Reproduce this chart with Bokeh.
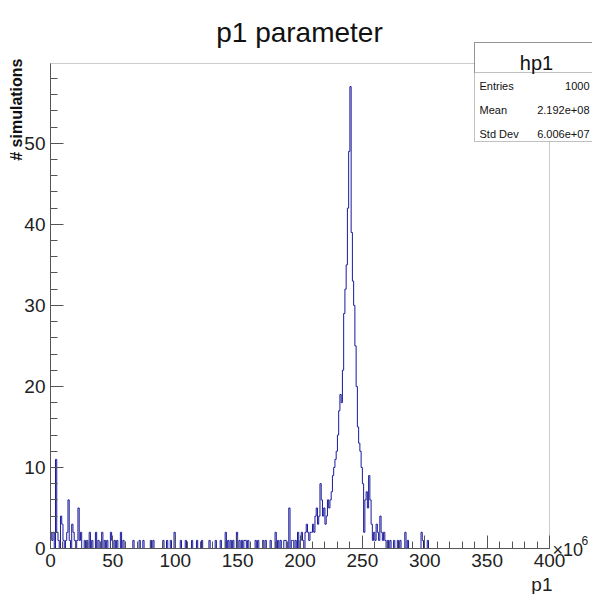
import numpy as np
from bokeh.plotting import figure
from bokeh.models import Label, BoxAnnotation, FixedTicker, Range1d, LinearAxis
from bokeh.embed import file_html
from bokeh.resources import INLINE

# ---------------- data (p1 in units of 1e6) ----------------
x_lo, x_hi = 0, 400
y_hi = 59.85
bin_width = 1

low_x = [0, 1, 2, 4, 5, 6, 8, 9, 10, 12, 13, 14, 15, 17, 18, 19, 21, 22, 23, 24,
         27, 29, 31, 33, 36, 38, 41, 43, 45, 48, 49, 51, 53, 56, 58, 66, 71, 74, 80, 82,
         90, 93, 96, 99, 104, 108, 113, 117, 121, 127, 132, 136, 140, 142, 144, 146, 149, 151, 153, 155,
         156, 158, 164, 166, 170, 172, 176, 180, 182, 184, 187, 188, 191, 193, 194, 196, 198]
low_n = [2, 1, 2, 11, 2, 1, 4, 3, 1, 1, 2, 6, 1, 3, 2, 1, 1, 5, 1, 2,
         1, 1, 2, 1, 2, 1, 2, 1, 1, 2, 1, 1, 1, 2, 1, 1, 1, 1, 1, 1,
         1, 1, 1, 2, 1, 1, 1, 1, 1, 1, 1, 1, 2, 1, 1, 1, 2, 1, 1, 1,
         1, 1, 1, 1, 1, 1, 1, 2, 1, 1, 1, 1, 5, 1, 1, 1, 2]

peak_start = 200
peak_n = [1, 2, 1, 0, 2, 3, 2, 1, 2, 2,
          3, 2, 4, 5, 3, 4, 8, 6, 4, 5,
          3, 4, 6, 5, 6, 7, 9, 10, 11, 12,
          14, 17, 19, 18, 22, 29, 32, 35, 42, 49,
          57, 39, 33, 30, 25, 20, 15, 13, 12, 10,
          8, 2, 6, 7, 5, 9, 6, 3, 1, 2,
          1, 3, 2, 1, 4, 2, 1, 2, 1]

tail_x = [270, 272, 275, 278, 280, 284, 286, 297, 298, 302]
tail_n = [1, 1, 1, 1, 1, 2, 1, 2, 1, 1]

x_major = [0, 50, 100, 150, 200, 250, 300, 350, 400]
y_major = [0, 10, 20, 30, 40, 50]

stats_name = "hp1"
stats_labels = ["Entries", "Mean", "Std Dev"]
stats_values = ["1000", "2.192e+08", "6.006e+07"]

# ---------------- build histogram ----------------
nbins = int((x_hi - x_lo) / bin_width)
counts = np.zeros(nbins)
for x, n in zip(low_x, low_n):
    counts[int((x - x_lo) / bin_width)] = n
for i, n in enumerate(peak_n):
    counts[int((peak_start + i - x_lo) / bin_width)] = n
for x, n in zip(tail_x, tail_n):
    counts[int((x - x_lo) / bin_width)] = n
edges = x_lo + bin_width * np.arange(nbins + 1)
xs = np.concatenate([[edges[0]], np.column_stack([edges[:-1], edges[1:]]).ravel(), [edges[-1]]])
ys = np.concatenate([[0], np.repeat(counts, 2), [0]])

# ---------------- layout (canvas px) ----------------
W, H = 592, 594
FL, FR, FT, FB = 50, 549, 63, 548   # ROOT frame position inside canvas
sx = (FR - FL) / (x_hi - x_lo)
sy = (FB - FT) / y_hi
x_range = Range1d(x_lo - FL / sx, x_hi + (W - FR) / sx)
y_range = Range1d(0 - (H - FB) / sy, y_hi + FT / sy)

p = figure(width=W, height=H, x_range=x_range, y_range=y_range,
           output_backend="svg", toolbar_location=None, title=None,
           x_axis_type=None, y_axis_type=None,
           min_border=0, min_border_left=0, min_border_right=0,
           min_border_top=0, min_border_bottom=0)
p.grid.visible = False
p.background_fill_color = "white"
p.border_fill_color = "white"
p.outline_line_color = None


def fx(cx):
    return x_lo + (cx - FL) / sx


def fy(cy):
    return (FB - cy) / sy


AX = "#555555"

# frame box (top/right edges)
p.add_layout(BoxAnnotation(left=x_lo, right=x_hi, bottom=0, top=y_hi, fill_alpha=0,
                           line_color=AX, line_width=1, level="underlay"))

p.line(xs, ys, line_color="#1a1a9a", line_width=1)

xaxis = LinearAxis(fixed_location=0, bounds=(x_lo, x_hi),
                   ticker=FixedTicker(ticks=x_major, minor_ticks=list(range(x_lo, x_hi + 1, 10))))
yaxis = LinearAxis(fixed_location=x_lo, bounds=(0, y_hi),
                   ticker=FixedTicker(ticks=y_major, minor_ticks=list(range(0, 60, 2))))
for ax in (xaxis, yaxis):
    ax.major_tick_in = 13
    ax.major_tick_out = 0
    ax.minor_tick_in = 7
    ax.minor_tick_out = 0
    ax.axis_line_color = AX
    ax.major_tick_line_color = AX
    ax.minor_tick_line_color = AX
    ax.major_label_text_font = "Liberation Sans"
    ax.major_label_text_font_size = "19px"
    ax.major_label_text_color = "#222222"
    ax.major_label_standoff = 5
p.add_layout(xaxis, "below")
p.add_layout(yaxis, "left")

p.add_layout(Label(x=fx(299), y=fy(32), text="p1 parameter", text_font="Liberation Sans",
                   text_font_size="28px", text_align="center", text_baseline="alphabetic",
                   text_color="#111111"))
p.add_layout(Label(x=fx(16), y=fy(58), text="# simulations", text_font="Liberation Sans",
                   text_font_size="16px", text_font_style="bold", angle=np.pi / 2,
                   text_align="right", text_baseline="alphabetic", text_color="#111111"))
p.add_layout(Label(x=fx(552), y=fy(584), text="p1", text_font="Liberation Sans",
                   text_font_size="19px", text_align="right", text_baseline="alphabetic",
                   text_color="#222222"))
p.add_layout(Label(x=fx(552), y=fy(549), text="\u00d710", text_font="Liberation Sans",
                   text_font_size="18px", text_align="left", text_baseline="alphabetic",
                   text_color="#222222"))
p.add_layout(Label(x=fx(581), y=fy(540), text="6", text_font="Liberation Sans",
                   text_font_size="12px", text_align="left", text_baseline="alphabetic",
                   text_color="#222222"))

# stats box
bl, br, bt, bb, bsep = 474, 610, 42, 141, 72
p.add_layout(BoxAnnotation(left=fx(bl), right=fx(br), top=fy(bt), bottom=fy(bb),
                           fill_color="white", fill_alpha=1, line_color="#333333", line_width=1,
                           level="overlay"))
p.add_layout(BoxAnnotation(left=fx(bl), right=fx(br), top=fy(bt), bottom=fy(bsep),
                           fill_color="white", fill_alpha=0, line_color="#333333", line_width=1,
                           level="overlay"))
p.add_layout(Label(x=fx(536), y=fy(62), text=stats_name, text_font="Liberation Sans",
                   text_font_size="20px", text_align="center", text_baseline="alphabetic",
                   text_color="#111111", level="overlay"))
for i, (lab, val) in enumerate(zip(stats_labels, stats_values)):
    yb = 85 + i * 24
    p.add_layout(Label(x=fx(479), y=fy(yb), text=lab, text_font="Liberation Sans",
                       text_font_size="11px", text_align="left", text_baseline="alphabetic",
                       text_color="#111111", level="overlay"))
    p.add_layout(Label(x=fx(589), y=fy(yb), text=val, text_font="Liberation Sans",
                       text_font_size="11px", text_align="right", text_baseline="alphabetic",
                       text_color="#111111", level="overlay"))

open("out.html", "w").write(file_html(p, INLINE))
